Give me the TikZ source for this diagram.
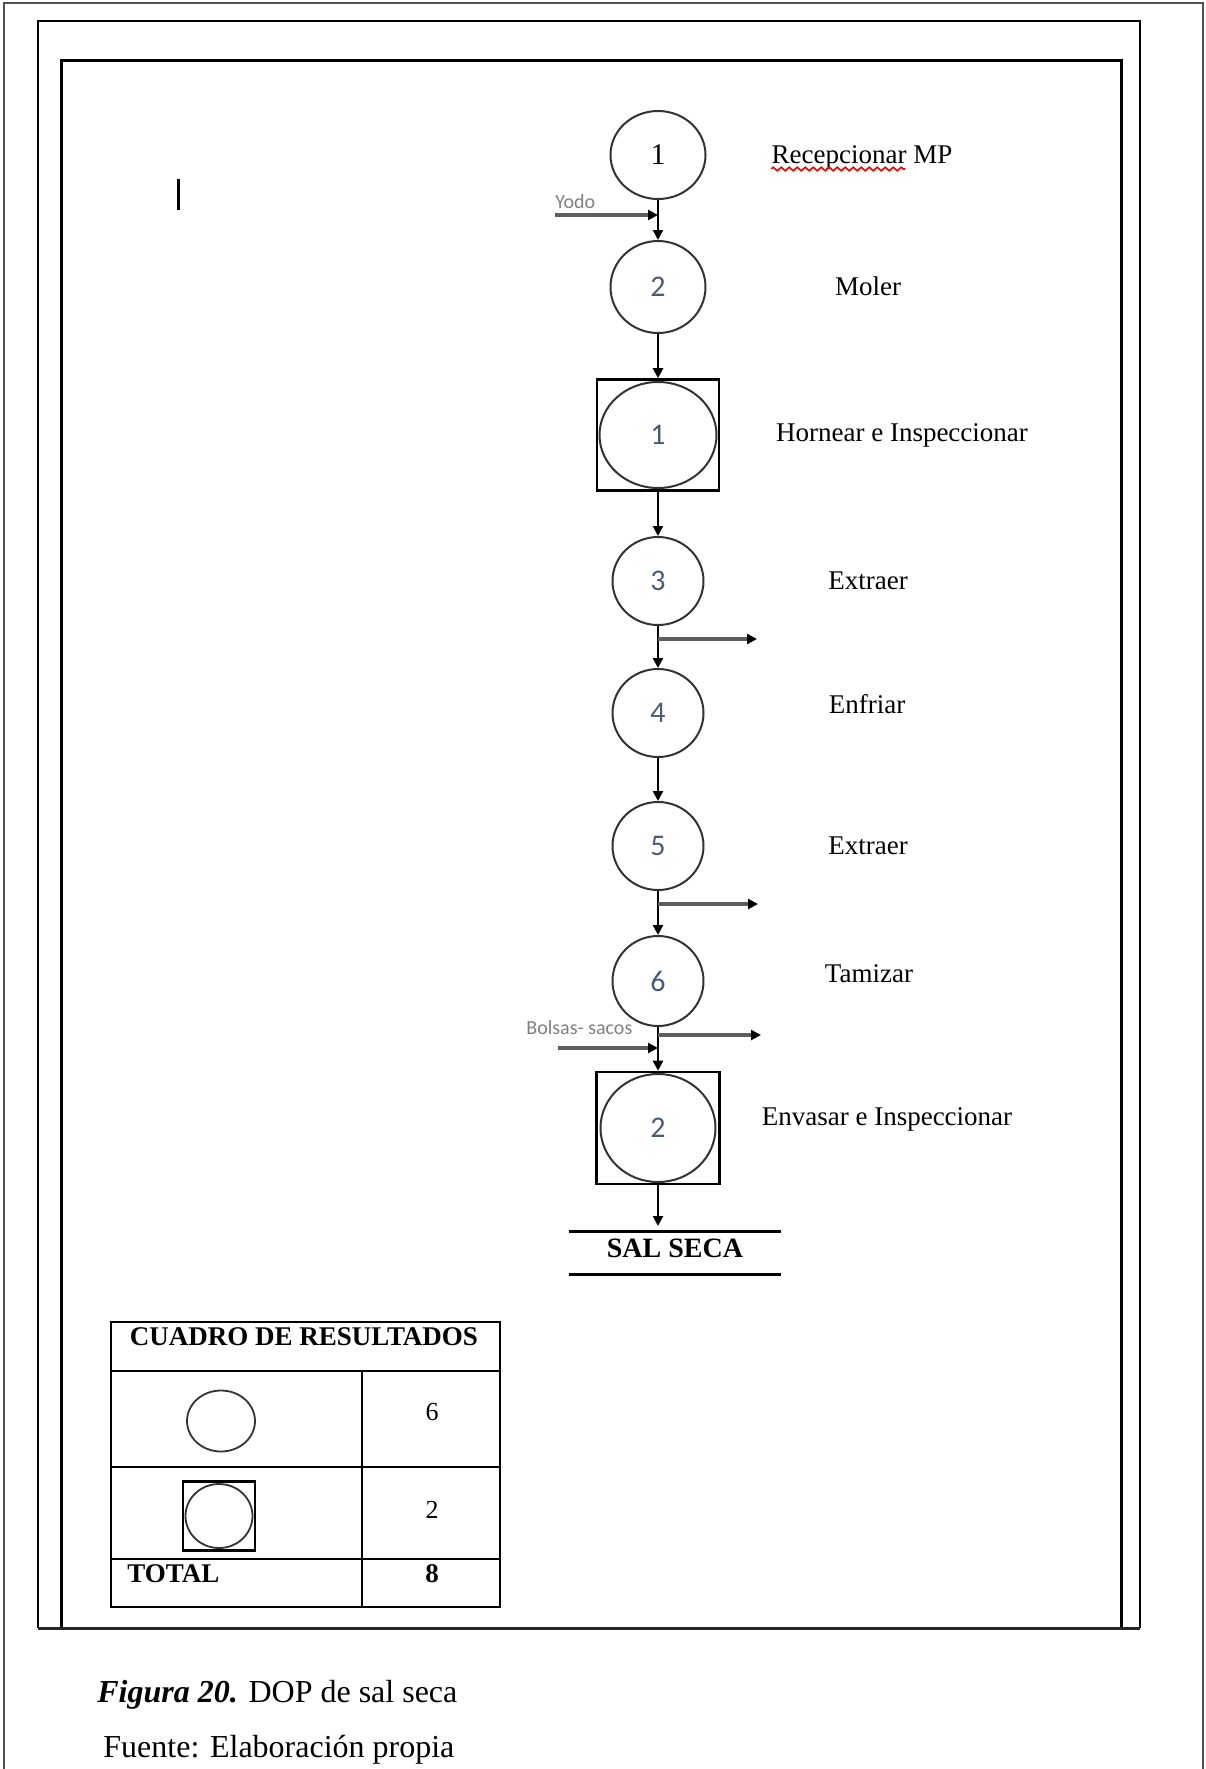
\documentclass[tikz,border=0pt]{standalone}
\usepackage{fontspec}
\setmainfont{Liberation Serif}
\newfontfamily\calib{Carlito}
\usetikzlibrary{shapes.geometric,arrows.meta,decorations.pathmorphing,calc}
\definecolor{numcol}{HTML}{4A5B7A}
\definecolor{sidegray}{HTML}{5E5E5E}
\definecolor{framegray}{HTML}{505050}
\begin{document}
\begin{tikzpicture}[x=0.5pt,y=-0.5pt,
  op/.style={ellipse, draw=black!80, line width=1pt, inner sep=0pt, text=numcol, font=\calib\fontsize{15}{18}\selectfont},
  insbox/.style={rectangle, draw=black, line width=1.3pt, inner sep=0pt},
  lbl/.style={anchor=base, inner sep=0pt, font=\fontsize{13.5}{16}\selectfont},
  flow/.style={line width=1.2pt, -{Triangle[length=5pt,width=5pt]}},
  side/.style={line width=1.6pt, draw=sidegray, -{Triangle[length=5pt,width=5pt,color=black]}},
  tinylbl/.style={anchor=base west, inner sep=0pt, text=gray, font=\calib\fontsize{10}{12}\selectfont},
  tabtxt/.style={anchor=base, inner sep=0pt, font=\fontsize{13}{15}\selectfont},
  tabbold/.style={anchor=base, inner sep=0pt, font=\bfseries\fontsize{13.5}{15}\selectfont},
  tabline/.style={line width=1.1pt},
]
\useasboundingbox (0,0) rectangle (1206,1769);

% frames
\draw[framegray, line width=1pt] (4,1769) -- (4,3) -- (1203,3) -- (1203,1769);
\draw[line width=1pt] (38,1628) -- (38,21) -- (1140,21) -- (1140,1628);
\draw[line width=1.5pt] (61,1628) -- (61,60) -- (1121,60) -- (1121,1628);
\draw[line width=1.5pt, black!85] (38,1628) -- (1140,1628);

% cursor mark
\draw[line width=1.5pt] (178,179) -- (178,210);

% process nodes
\node[op, text=black, font=\fontsize{15}{18}\selectfont, minimum width=47.5pt, minimum height=44pt] (c1) at (658,155) {1};
\node[op, minimum width=47.5pt, minimum height=46pt] (c2) at (658,287) {2};
\node[insbox, minimum width=61pt, minimum height=55.5pt] (ins1) at (658,435) {};
\node[op, minimum width=58.5pt, minimum height=53pt] (ins1c) at (658,435) {1};
\node[op, minimum width=45.5pt, minimum height=44pt] (c3) at (658,581) {3};
\node[op, minimum width=45.5pt, minimum height=44pt] (c4) at (658,713) {4};
\node[op, minimum width=45.5pt, minimum height=44pt] (c5) at (658,846) {5};
\node[op, minimum width=45.5pt, minimum height=45pt] (c6) at (658,981) {6};
\node[insbox, minimum width=61.5pt, minimum height=56pt] (ins2) at (658,1128) {};
\node[op, minimum width=57.5pt, minimum height=54pt] (ins2c) at (658,1128) {2};

% end product
\node[minimum width=106pt, minimum height=21pt, inner sep=0pt] (sal) at (675,1253) {};
\node[inner sep=0pt, font=\bfseries\fontsize{14}{16}\selectfont] (saltxt) at (675,1248) {SAL SECA};
\draw[line width=1.2pt] (sal.north west) -- (sal.north east);
\draw[line width=1.2pt] (sal.south west) -- (sal.south east);
\coordinate (salin) at (658,1226);

% main flow
\draw[flow] (c1) -- (c2);
\draw[flow] (c2) -- (ins1);
\draw[flow] (ins1) -- (c3);
\draw[flow] (c3) -- (c4);
\draw[flow] (c4) -- (c5);
\draw[flow] (c5) -- (c6);
\draw[flow] (c6) -- (ins2);
\draw[flow] (ins2) -- (salin);

% side inputs / outputs
\coordinate (yodoA) at (555,215);
\draw[side] (yodoA) -- (yodoA -| c1);
\node[tinylbl] (yodo) at (555,208) {Yodo};
\coordinate (o3) at (757,639);
\draw[side] (o3 -| c3) -- (o3);
\coordinate (o5) at (758,904);
\draw[side] (o5 -| c5) -- (o5);
\coordinate (o6) at (761,1035);
\draw[side] (o6 -| c6) -- (o6);
\coordinate (bolA) at (558,1048);
\draw[side] (bolA) -- (bolA -| c6);
\node[tinylbl] (bols) at (526,1034) {Bolsas- sacos};

% labels
\node[lbl] (l1) at (862,163) {Recepcionar MP};
\draw[red, line width=0.8pt, decorate, decoration={zigzag, segment length=4pt, amplitude=0.9pt}]
  ($(l1.base west)+(0,6)$) -- ($(l1.base west)+(134,6)$);
\node[lbl] (l2) at (868,295) {Moler};
\node[lbl] (l3) at (902,441) {Hornear e Inspeccionar};
\node[lbl] (l4) at (868,589) {Extraer};
\node[lbl] (l5) at (867,713) {Enfriar};
\node[lbl] (l6) at (868,854) {Extraer};
\node[lbl] (l7) at (869,982) {Tamizar};
\node[lbl] (l8) at (887,1125) {Envasar e Inspeccionar};

% results table
\draw[tabline, line width=1.3pt] (111,1322) rectangle (500,1607);
\draw[tabline] (111,1371) -- (500,1371);
\draw[tabline] (111,1467) -- (500,1467);
\draw[tabline] (111,1559) -- (500,1559);
\draw[tabline] (362,1371) -- (362,1607);
\node[tabbold] (thead) at (304,1345) {CUADRO DE RESULTADOS};
\node[ellipse, draw=black!80, line width=0.9pt, inner sep=0pt, minimum width=34pt, minimum height=30.5pt] (tc1) at (221,1421) {};
\node[rectangle, draw=black, line width=1.2pt, inner sep=0pt, minimum width=36pt, minimum height=34.5pt] (tsq) at (219,1516) {};
\node[ellipse, draw=black!80, line width=0.9pt, inner sep=0pt, minimum width=33.5pt, minimum height=32pt] (tc2) at (219,1516) {};
\node[tabtxt] (n6) at (432,1420) {6};
\node[tabtxt] (n2) at (432,1518) {2};
\node[tabbold, anchor=base west] (tot) at (127,1582) {TOTAL};
\node[tabbold] (n8) at (432,1582) {8};

% caption
\node[anchor=base west, inner sep=0pt, font=\fontsize{16}{19}\selectfont] (fig) at (97,1702) {\textbf{\textit{Figura 20.}} DOP de sal seca};
\node[anchor=base west, inner sep=0pt, font=\fontsize{16}{19}\selectfont] (src) at (103,1757) {Fuente: Elaboración propia};
\end{tikzpicture}
\end{document}
